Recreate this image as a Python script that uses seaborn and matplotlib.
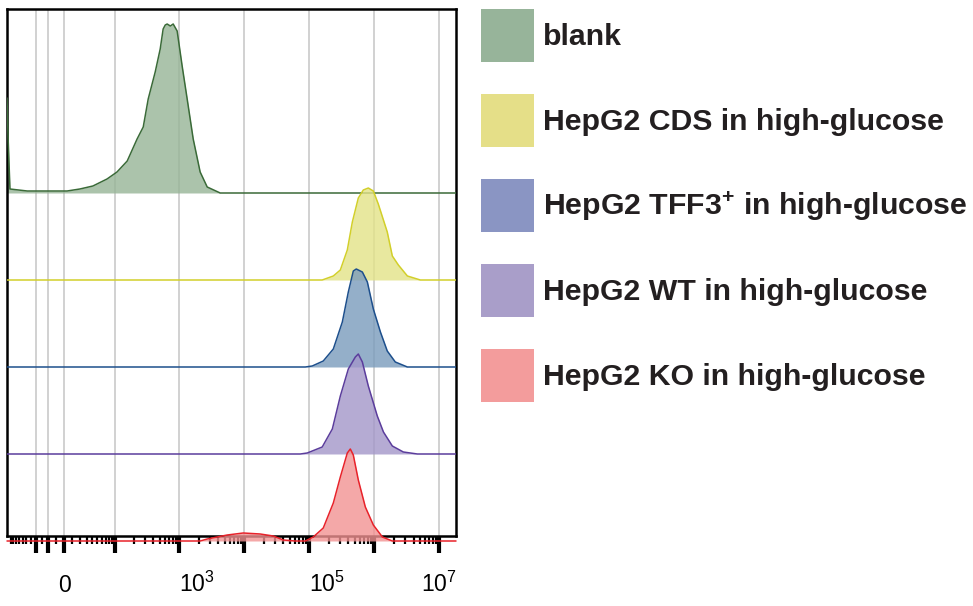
import numpy as np
import pandas as pd
import matplotlib
matplotlib.use("Agg")
import matplotlib.pyplot as plt
from matplotlib.patches import Patch
from matplotlib.ticker import FixedLocator
import seaborn as sns

# legend order, top row of the stack first
samples = [
    "blank",
    "HepG2 CDS in high-glucose",
    r"HepG2 TFF3$^{\mathbf{+}}$ in high-glucose",
    "HepG2 WT in high-glucose",
    "HepG2 KO in high-glucose",
]

# fluorescence intensity (x) and event counts (h)
blank_x = [-126, -121, -113, -58, 3.6, 20, 41, 74, 108, 157, 224, 279, 333, 427, 510,
           566, 610, 653, 730, 808, 930, 1110, 1326, 1642, 2100, 2695, 4270, 1.8e7]
blank_h = [95, 55, 4, 2, 2, 4, 7, 14, 21, 32, 54, 66, 94, 121, 144,
           164, 168, 169, 167, 169, 162, 127, 94, 54, 21, 6, 0, 0]

cds_x = [-126, 1.58e5, 2.34e5, 3.0e5, 3.84e5, 4.59e5, 5.67e5, 6.77e5, 8.08e5, 9.65e5,
         1.15e6, 1.58e6, 1.89e6, 2.34e6, 3.22e6, 5.1e6, 1.8e7]
cds_h = [0, 0, 4, 10, 30, 58, 82, 90, 92, 89, 76, 48, 24, 15, 4, 0, 0]

tff3_x = [-126, 8.68e4, 1.11e5, 1.64e5, 2.34e5, 3.22e5, 3.98e5, 4.75e5, 5.28e5, 6.54e5,
          7.81e5, 9.65e5, 1.24e6, 1.58e6, 2.10e6, 3.22e6, 1.8e7]
tff3_h = [0, 0, 1, 6, 18, 45, 75, 96, 98, 95, 85, 58, 35, 16, 5, 0, 0]

wt_x = [-126, 7.27e4, 9.3e4, 1.58e5, 2.26e5, 3.0e5, 3.98e5, 5.10e5, 5.67e5, 6.54e5,
        8.08e5, 1.11e6, 1.38e6, 1.89e6, 2.79e6, 4.59e6, 1.8e7]
wt_h = [0, 0, 1, 7, 25, 58, 85, 97, 100, 92, 68, 38, 22, 8, 2, 0, 0]

ko_x = [-126, 2100, 2695, 5470, 9650, 17600, 27900, 39800, 60900, 8.68e4, 1.15e5, 1.64e5,
        2.34e5, 3.0e5, 3.84e5, 4.27e5, 4.75e5, 5.67e5, 7.27e5, 9.65e5, 1.33e6, 1.89e6, 1.8e7]
ko_h = [0, 0, 2, 6, 8, 7, 5, 1, 0, 0, 4, 13,
        38, 64, 88, 92, 86, 61, 34, 16, 4, 0, 0]

line_colors = ["#3a6a38", "#d2cf2a", "#1d4f8c", "#5b3d9c", "#e8222a"]
fill_colors = ["#96b496", "#e3e387", "#7a9bbc", "#a396c9", "#f29292"]
legend_colors = ["#97b49a", "#e5df88", "#8a95c3", "#a99ec9", "#f39c9c"]

major_ticks = [-40, -20, 0, 1e2, 1e3, 1e4, 1e5, 1e6, 1e7]
tick_labels = ["", "", "0", "", "$10^{3}$", "", "$10^{5}$", "", "$10^{7}$"]

sns.set_theme(style="white")
plt.rcParams["font.family"] = ["Liberation Sans", "DejaVu Sans"]
plt.rcParams["mathtext.fontset"] = "custom"
plt.rcParams["mathtext.rm"] = "Liberation Sans"
plt.rcParams["mathtext.bf"] = "Liberation Sans:bold"
plt.rcParams["mathtext.default"] = "regular"

fig = plt.figure(figsize=(9.73, 6.06), dpi=100)
ax = fig.add_axes([7 / 973, 1 - 536 / 606, 449 / 973, 527 / 606])

# biexponential-like display: arcsinh transform
C = 34.0
def fwd(v):
    return np.arcsinh(np.asarray(v, dtype=float) / C) / np.log(10)
def inv(p):
    return C * np.sinh(np.asarray(p, dtype=float) * np.log(10))
ax.set_xscale("function", functions=(fwd, inv))

curves = [(blank_x, blank_h), (cds_x, cds_h), (tff3_x, tff3_h), (wt_x, wt_h), (ko_x, ko_h)]
ROW = 87  # vertical stagger between histograms
n = len(curves)
for i, (x, h) in enumerate(curves):
    off = (n - 1 - i) * ROW
    df = pd.DataFrame({"x": x, "y": np.asarray(h, dtype=float) + off})
    clip = i != n - 1  # the KO baseline sits just under the frame
    ax.fill_between(df["x"], off, df["y"], color=fill_colors[i], alpha=0.8,
                    lw=0, clip_on=clip, zorder=2 + 2 * i)
    sns.lineplot(data=df, x="x", y="y", color=line_colors[i], lw=1.1, ax=ax,
                 estimator=None, sort=False, clip_on=clip, zorder=3 + 2 * i)

ax.set_xlim(-126, 1.8e7)
ax.set_ylim(5, 532)
ax.set_yticks([])
ax.set_xlabel("")
ax.set_ylabel("")

# ticks and grid
minor = [-110, -100, -90, -80, -70, -60, -50, -30, -10] + list(range(10, 100, 10))
for e in range(2, 7):
    minor += [k * 10 ** e for k in range(2, 10)]
ax.set_xticks(major_ticks, labels=tick_labels)
ax.xaxis.set_minor_locator(FixedLocator(minor))
ax.tick_params(axis="x", which="major", direction="out", bottom=True, length=12.5,
               width=3.0, color="black", pad=28, labelsize=16.5, labelcolor="black")
ax.tick_params(axis="x", which="minor", direction="out", bottom=True, length=5.5,
               width=1.6, color="black")
for lab, txt in zip(ax.get_xticklabels(), tick_labels):
    lab.set_va("baseline")
    if txt in ("$10^{3}$", "$10^{5}$"):
        lab.set_ha("left")
ax.xaxis.grid(True, which="major", color="#c9c9c9", lw=1.2)

for sp in ax.spines.values():
    sp.set_visible(True)
    sp.set_color("black")
    sp.set_linewidth(1.8)

handles = [Patch(facecolor=c, edgecolor="none") for c in legend_colors]
leg = fig.legend(handles, samples, loc="upper left",
                 bbox_to_anchor=(481 / 973, 1 - 9 / 606), frameon=False,
                 prop={"size": 21.8, "weight": "bold"}, handlelength=1.75,
                 handleheight=2.316, labelspacing=1.057, handletextpad=0.3,
                 borderpad=0, borderaxespad=0)
for t in leg.get_texts():
    t.set_color("#231f20")

fig.savefig("out.png", dpi=100)
